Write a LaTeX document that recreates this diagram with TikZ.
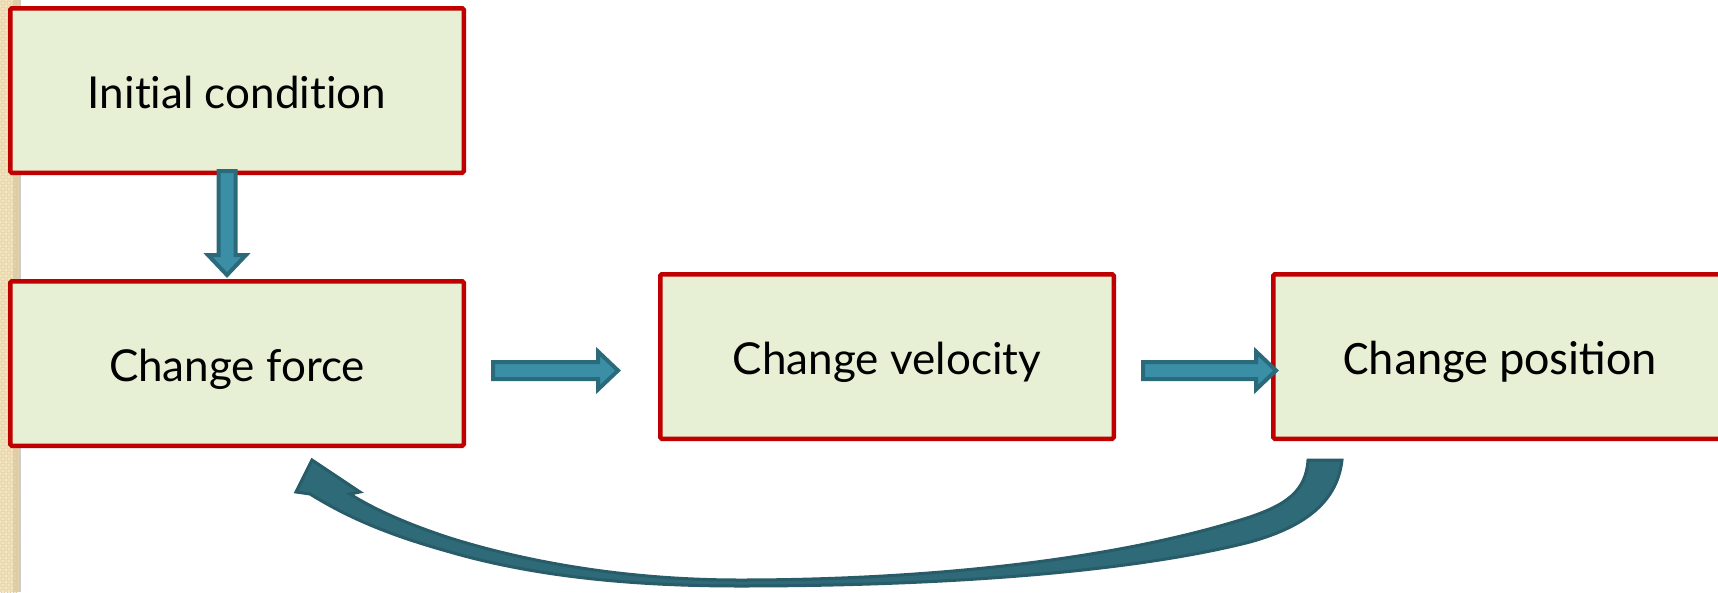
\documentclass[tikz,border=0pt]{standalone}
\usepackage{fontspec}
\setmainfont{Lato}[Ligatures=CommonOff]
\newfontfamily\calfont{Carlito}
\usetikzlibrary{calc}
\definecolor{boxfill}{HTML}{E7F0D4}
\definecolor{boxline}{HTML}{C00000}
\definecolor{arrfill}{HTML}{3A8FA7}
\definecolor{arrline}{HTML}{2A6A7B}
\definecolor{loopfill}{HTML}{2E6A77}
\definecolor{loopline}{HTML}{275C68}
\definecolor{strip}{HTML}{F3E4C0}
\definecolor{stripcell}{HTML}{E3CFA2}
\definecolor{stripdark}{HTML}{D5C59C}
\begin{document}
\begin{tikzpicture}[x=1pt,y=-1pt,
  stepbox/.style={draw=boxline, fill=boxfill, line width=4.5pt, rounded corners=1.5pt,
    minimum width=453.5pt, minimum height=164.5pt, inner sep=0pt,
    text height=36pt, text depth=0pt,
    font=\fontsize{44}{50}\selectfont},
  block arrow/.style={fill=arrfill, draw=arrline, line width=4pt, line join=miter,
    to path={
      ($(\tikztostart)!8.5pt!90:(\tikztotarget)$)
      -- ($(\tikztotarget)!20pt!(\tikztostart)!8.5pt!-90:(\tikztostart)$)
      -- ($(\tikztotarget)!20pt!(\tikztostart)!19pt!-90:(\tikztostart)$)
      -- (\tikztotarget)
      -- ($(\tikztotarget)!20pt!(\tikztostart)!19pt!90:(\tikztostart)$)
      -- ($(\tikztotarget)!20pt!(\tikztostart)!8.5pt!90:(\tikztostart)$)
      -- ($(\tikztostart)!8.5pt!-90:(\tikztotarget)$)
      -- cycle}},
  loop arrow/.style={fill=loopfill, draw=loopline, line width=3pt, line join=miter}]
\useasboundingbox (0,0) rectangle (1718,592);
\clip (0,0) rectangle (1718,592);

% textured side strip
\fill[strip] (0,0) rectangle (19,592);
\foreach \yy in {0,6,...,588}
  \foreach \xx in {0,6,12}
    \draw[stripcell, line width=0.9pt, rounded corners=1pt] (\xx+1,\yy+1) rectangle (\xx+5,\yy+5);
\fill[stripdark, opacity=0.6] (13,0) rectangle (19,592);
\fill[black!20] (19,0) rectangle (20.5,592);

% process boxes
\node[stepbox] (b1) at (237,90.5) {Initial condition};
\node[stepbox] (b2) at (237,363.5) {Change force};
\node[stepbox] (b3) at (887,356.5) {Change velocity};
\node[stepbox, font=\calfont\fontsize{48}{54}\selectfont] (b4) at (1500,356.5) {Change position};

% straight block arrows
\coordinate (d0) at ($(b1.south)+(-10,-4)$);
\coordinate (d1) at ($(b2.north)+(-10,-4)$);
\coordinate (r0) at ($(b2.east)+(27,7)$);
\coordinate (r1) at ($(b3.west)+(-40,14)$);
\coordinate (s0) at ($(b3.east)+(27,14)$);
\coordinate (s1) at ($(b4.west)+(5,14)$);
\draw[block arrow] (d0) to (d1);
\draw[block arrow] (r0) to (r1);
\draw[block arrow] (s0) to (s1);

% feedback arrow from position back to force
\coordinate (tailL) at (1308,460);
\coordinate (tailR) at (1342,460);
\coordinate (tip) at (312,460);
\draw[loop arrow] (tailL)
  .. controls (1306,492) and (1285,505) .. (1250,517)
  .. controls (1100,565) and (900,580) .. (740,580)
  .. controls (620,580) and (520,560) .. (450,538)
  .. controls (410,525) and (375,510) .. (350,494)
  -- (360,492) -- (tip) -- (296,492) -- (310,494)
  .. controls (355,522) and (400,538) .. (450,552)
  .. controls (540,578) and (640,586) .. (740,586)
  .. controls (920,586) and (1120,575) .. (1250,542)
  .. controls (1300,528) and (1337,505) .. (tailR)
  -- cycle;
\end{tikzpicture}
\end{document}
